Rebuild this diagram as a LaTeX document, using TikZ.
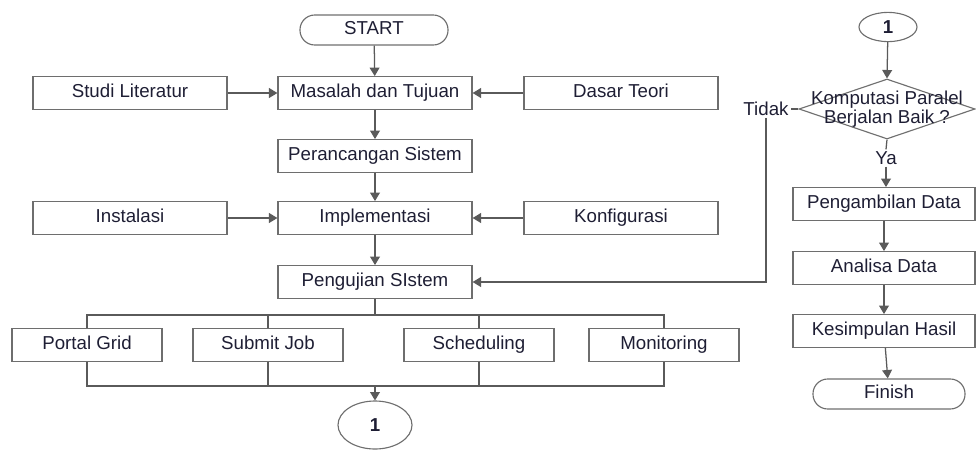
\documentclass[tikz,border=0pt]{standalone}
\usepackage{fontspec}
\setmainfont{Liberation Sans}
\usetikzlibrary{arrows.meta,shapes.geometric}

\definecolor{linegray}{HTML}{5A5A5A}
\definecolor{boxgray}{HTML}{6E6E6E}
\definecolor{txt}{HTML}{1E1E34}

\begin{document}
\begin{tikzpicture}[x=0.025cm, y=-0.025cm, line width=0.9pt,
    every node/.style={text=txt, font=\fontsize{13.3}{15}\selectfont},
    box/.style={draw=boxgray, line width=0.8pt, minimum height=0.82cm, inner sep=2pt, text height=1.5ex, text depth=0.3ex},
    wide/.style={box, minimum width=4.85cm},
    small/.style={box, minimum width=3.75cm},
    side/.style={box, minimum width=4.55cm},
    term/.style={draw=boxgray, line width=0.8pt, rounded corners=0.37cm, minimum height=0.75cm, text height=1.5ex, text depth=0.3ex},
    conn/.style={draw=boxgray, line width=0.8pt, ellipse, inner sep=0pt, font=\fontsize{13.3}{15}\bfseries},
    arr/.style={draw=linegray, -{Triangle[length=6pt,width=7pt]}},
    ln/.style={draw=linegray}]
    \useasboundingbox (0,0) rectangle (976,450);

    % left column
    \node[term, minimum width=3.7cm] (start) at (374,30) {START};
    \node[wide] (masalah) at (375,93) {Masalah dan Tujuan};
    \node[wide] (studi) at (130,93) {Studi Literatur};
    \node[wide] (dasar) at (621,93) {Dasar Teori};
    \node[wide] (rancang) at (375,156) {Perancangan Sistem};
    \node[wide] (instal) at (130,218) {Instalasi};
    \node[wide] (implem) at (375,218) {Implementasi};
    \node[wide] (konfig) at (621,218) {Konfigurasi};
    \node[wide] (uji) at (375,282) {Pengujian SIstem};

    \node[small] (portal) at (87,345) {Portal Grid};
    \node[small] (submit) at (268,345) {Submit Job};
    \node[small] (sched) at (479,345) {Scheduling};
    \node[small] (monitor) at (664,345) {Monitoring};

    \coordinate (busTop) at (375,315);
    \coordinate (busBot) at (375,386);
    \node[conn, minimum width=1.85cm, minimum height=1.2cm] (con1) at (375,425) {1};

    \draw[arr] (start) -- (masalah);
    \draw[arr] (studi) -- (masalah);
    \draw[arr] (dasar) -- (masalah);
    \draw[arr] (masalah) -- (rancang);
    \draw[arr] (rancang) -- (implem);
    \draw[arr] (instal) -- (implem);
    \draw[arr] (konfig) -- (implem);
    \draw[arr] (implem) -- (uji);

    \draw[ln] (uji) -- (busTop);
    \draw[ln] (portal.north) |- (busTop) -| (monitor.north);
    \draw[ln] (submit.north) -- (submit.north |- busTop);
    \draw[ln] (sched.north) -- (sched.north |- busTop);
    \draw[ln] (portal.south) |- (busBot) -| (monitor.south);
    \draw[ln] (submit.south) -- (submit.south |- busBot);
    \draw[ln] (sched.south) -- (sched.south |- busBot);
    \draw[arr] (busBot) -- (con1);

    % right column
    \node[conn, minimum width=1.45cm, minimum height=0.73cm] (con2) at (888,27) {1};
    \node[diamond, draw=boxgray, line width=0.8pt, minimum width=4.4cm, minimum height=1.5cm, inner sep=0pt] (dia) at (887,109) {};
    \node[align=center, font=\fontsize{13.3}{11}\selectfont, inner sep=0pt] (diatext) at (dia.center) {Komputasi Paralel\\Berjalan Baik ?};
    \node[inner sep=1pt] (tidak) at (766,109) {Tidak};
    \node[inner sep=1pt] (ya) at (886,158) {Ya};

    \node[side] (ambil) at (884,204) {Pengambilan Data};
    \node[side] (analisa) at (884,268) {Analisa Data};
    \node[side] (simpul) at (884,331) {Kesimpulan Hasil};
    \node[term, minimum width=3.8cm] (finish) at (889,394) {Finish};

    \draw[arr] (con2) -- (dia.north);
    \draw[ln] (dia.west) -- (tidak.east);
    \draw[arr] (tidak.south) |- (uji.east);
    \draw[ln] (dia.south) -- (ya.north);
    \draw[arr] (ya.south) -- (ambil.north -| ya.south);
    \draw[arr] (ambil) -- (analisa);
    \draw[arr] (analisa) -- (simpul);
    \draw[arr] (simpul) -- (finish);

\end{tikzpicture}
\end{document}
